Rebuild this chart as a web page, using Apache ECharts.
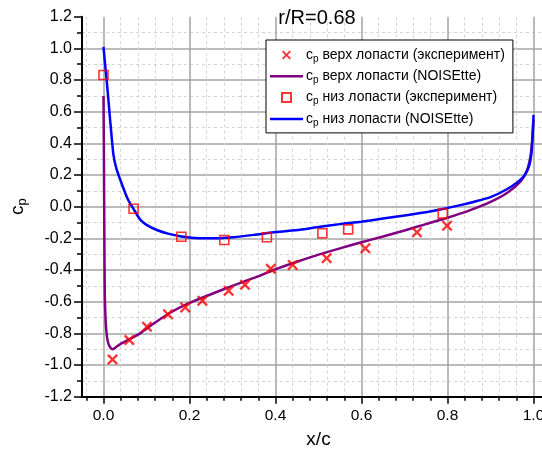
<!DOCTYPE html>
<html>
<head>
<meta charset="utf-8">
<script src="https://cdn.jsdelivr.net/npm/echarts@6/dist/echarts.min.js"></script>
<style>
  html, body { margin: 0; padding: 0; background: #fff; }
  #chart { width: 542px; height: 450px; }
</style>
</head>
<body>
<div id="chart"></div>
<script>
// Pressure coefficient along the blade section, r/R = 0.68

// Experiment, upper surface: [x/c, cp]
const upperExpX = [0.021, 0.060, 0.101, 0.150, 0.190, 0.230, 0.291, 0.329, 0.389, 0.440, 0.519, 0.609, 0.729, 0.799];
const upperExpCp = [-0.965, -0.842, -0.758, -0.680, -0.636, -0.594, -0.531, -0.493, -0.392, -0.368, -0.325, -0.263, -0.162, -0.120];

// Experiment, lower surface
const lowerExpX = [0.000, 0.070, 0.181, 0.281, 0.380, 0.509, 0.569, 0.789];
const lowerExpCp = [0.832, -0.013, -0.190, -0.210, -0.193, -0.168, -0.143, -0.044];

// NOISEtte, upper surface
const upperCfdX = [0.000, 0.001, 0.002, 0.003, 0.005, 0.008, 0.012, 0.017, 0.022, 0.030, 0.040, 0.060, 0.085, 0.100, 0.150,
  0.200, 0.250, 0.300, 0.350, 0.400, 0.450, 0.500, 0.550, 0.600, 0.650, 0.700, 0.750, 0.800, 0.850, 0.900,
  0.940, 0.970, 0.985, 0.993, 0.997, 1.000];
const upperCfdCp = [0.70, 0.30, -0.20, -0.55, -0.72, -0.82, -0.87, -0.893, -0.900, -0.885, -0.866, -0.838, -0.800, -0.770, -0.678,
  -0.608, -0.553, -0.500, -0.450, -0.395, -0.348, -0.303, -0.263, -0.225, -0.188, -0.150, -0.110, -0.070, -0.025, 0.030,
  0.090, 0.160, 0.230, 0.320, 0.420, 0.550];

// NOISEtte, lower surface
const lowerCfdX = [0.000, 0.003, 0.008, 0.016, 0.023, 0.030, 0.039, 0.050, 0.058, 0.070, 0.085, 0.100, 0.124, 0.150, 0.181,
  0.210, 0.240, 0.270, 0.302, 0.350, 0.401, 0.457, 0.500, 0.550, 0.599, 0.650, 0.700, 0.750, 0.789, 0.830,
  0.860, 0.900, 0.938, 0.965, 0.980, 0.990, 0.995, 0.998, 1.000];
const lowerCfdCp = [1.01, 0.92, 0.78, 0.53, 0.33, 0.24, 0.17, 0.09, 0.04, -0.015, -0.080, -0.115, -0.147, -0.170, -0.188,
  -0.197, -0.200, -0.199, -0.193, -0.178, -0.160, -0.145, -0.128, -0.110, -0.095, -0.075, -0.055, -0.035, -0.015, 0.010,
  0.030, 0.060, 0.110, 0.160, 0.200, 0.260, 0.330, 0.450, 0.580];

// Axis tick positions
const xMajorTicks = [0.0, 0.2, 0.4, 0.6, 0.8, 1.0];
const xMinorTicks = [-0.04, 0.04, 0.08, 0.12, 0.16, 0.24, 0.28, 0.32, 0.36, 0.44, 0.48, 0.52, 0.56,
  0.64, 0.68, 0.72, 0.76, 0.84, 0.88, 0.92, 0.96, 1.04];

// Legend / series labels
const seriesNames = [
  'верх лопасти (эксперимент)',
  'верх лопасти (NOISEtte)',
  'низ лопасти (эксперимент)',
  'низ лопасти (NOISEtte)'
];
const titleText = 'r/R=0.68';

const FONT = 'Liberation Sans, Arial, Helvetica, sans-serif';
const zip = (xs, ys) => xs.map((x, i) => [x, ys[i]]);
const crossPath = 'path://M0,1.5L1.5,0L5,3.5L8.5,0L10,1.5L6.5,5L10,8.5L8.5,10L5,6.5L1.5,10L0,8.5L3.5,5Z';
const lineIcon = 'path://M0,0L33,0L33,2.5L0,2.5Z';
const squareIcon = 'path://M0,0L10,0L10,10L0,10Z';

const chart = echarts.init(document.getElementById('chart'), null, { renderer: 'canvas' });

const majorGrid = { color: '#a3a3a3', width: 1.5 };
const minorGrid = { color: '#d4d4d4', width: 1, type: [3, 3] };

chart.setOption({
  animation: false,
  backgroundColor: '#fff',
  textStyle: { fontFamily: FONT },
  title: {
    text: titleText,
    left: 312,
    top: 3,
    textAlign: 'center',
    textStyle: { fontFamily: FONT, fontSize: 20, fontWeight: 'normal', color: '#000' }
  },
  grid: { left: 82, top: 16.7, width: 473, height: 380, outerBoundsMode: 'none', containLabel: false },
  legend: {
    orient: 'vertical',
    left: 266,
    top: 40,
    padding: [8, 8, 5, 4],
    itemGap: 5.3,
    itemWidth: 33,
    itemHeight: 9,
    backgroundColor: '#fff',
    borderColor: '#000',
    borderWidth: 1,
    borderRadius: 0,
    data: [
      { name: seriesNames[0], icon: crossPath },
      { name: seriesNames[1], icon: lineIcon },
      { name: seriesNames[2], icon: squareIcon },
      { name: seriesNames[3], icon: lineIcon }
    ],
    formatter: name => '{c|c}{p|p}{t| ' + name + '}',
    textStyle: {
      fontFamily: FONT, fontSize: 14, color: '#000', padding: [0, 0, 0, -2],
      rich: {
        c: { fontFamily: FONT, fontSize: 14, lineHeight: 18, color: '#000' },
        p: { fontFamily: FONT, fontSize: 10, lineHeight: 8, verticalAlign: 'bottom', color: '#000' },
        t: { fontFamily: FONT, fontSize: 14, lineHeight: 18, color: '#000' }
      }
    }
  },
  xAxis: [
    {
      type: 'value', min: -0.05, max: 1.05,
      name: 'x/c', nameLocation: 'middle', nameGap: 34,
      nameTextStyle: { fontFamily: FONT, fontSize: 19, color: '#000' },
      axisLine: { show: true, onZero: false, lineStyle: { color: '#000', width: 2 } },
      axisTick: { show: true, inside: false, length: 7, customValues: xMajorTicks, lineStyle: { color: '#000', width: 1.5 } },
      axisLabel: { show: true, customValues: xMajorTicks, margin: 11, fontFamily: FONT, fontSize: 15.5, color: '#000',
        formatter: v => v.toFixed(1) },
      splitLine: { show: true, lineStyle: majorGrid }
    },
    {
      // minor ticks and dashed minor grid
      type: 'value', min: -0.05, max: 1.05, position: 'bottom',
      axisLine: { show: false, onZero: false },
      axisTick: { show: true, inside: false, length: 4, customValues: xMinorTicks, lineStyle: { color: '#000', width: 1.5 } },
      axisLabel: { show: false },
      splitLine: { show: true, lineStyle: minorGrid }
    }
  ],
  yAxis: {
    type: 'value', min: -1.2, max: 1.2, interval: 0.2,
    name: '{c|c}{p|p}', nameLocation: 'middle', nameGap: 53, nameRotate: 90,
    nameTextStyle: {
      rich: {
        c: { fontFamily: FONT, fontSize: 19, lineHeight: 22, color: '#000' },
        p: { fontFamily: FONT, fontSize: 13, lineHeight: 10, verticalAlign: 'bottom', color: '#000' }
      }
    },
    axisLine: { show: true, onZero: false, lineStyle: { color: '#000', width: 2 } },
    axisTick: { show: true, inside: false, length: 8, lineStyle: { color: '#000', width: 1.5 } },
    minorTick: { show: true, splitNumber: 2, length: 5, lineStyle: { color: '#000', width: 1.5 } },
    axisLabel: { margin: 10, fontFamily: FONT, fontSize: 16, color: '#000', formatter: v => v.toFixed(1) },
    splitLine: { show: true, showMaxLine: false, lineStyle: majorGrid },
    minorSplitLine: { show: true, lineStyle: minorGrid }
  },
  series: [
    {
      name: seriesNames[0], type: 'scatter', xAxisIndex: 0,
      data: zip(upperExpX, upperExpCp),
      symbol: crossPath, symbolSize: 11, z: 5,
      itemStyle: { color: '#ff0000' }
    },
    {
      name: seriesNames[1], type: 'line', xAxisIndex: 0,
      data: zip(upperCfdX, upperCfdCp),
      symbol: 'none', smooth: 0.2, z: 3,
      lineStyle: { color: '#800080', width: 2.5 },
      itemStyle: { color: '#800080' }
    },
    {
      name: seriesNames[2], type: 'scatter', xAxisIndex: 0,
      data: zip(lowerExpX, lowerExpCp),
      symbol: 'rect', symbolSize: 9, z: 5,
      itemStyle: { color: 'rgba(255,255,255,0)', borderColor: '#ff0000', borderWidth: 1.6 }
    },
    {
      name: seriesNames[3], type: 'line', xAxisIndex: 0,
      data: zip(lowerCfdX, lowerCfdCp),
      symbol: 'none', smooth: 0.2, z: 4,
      lineStyle: { color: '#0000ff', width: 2.5 },
      itemStyle: { color: '#0000ff' }
    }
  ]
});
</script>
</body>
</html>
